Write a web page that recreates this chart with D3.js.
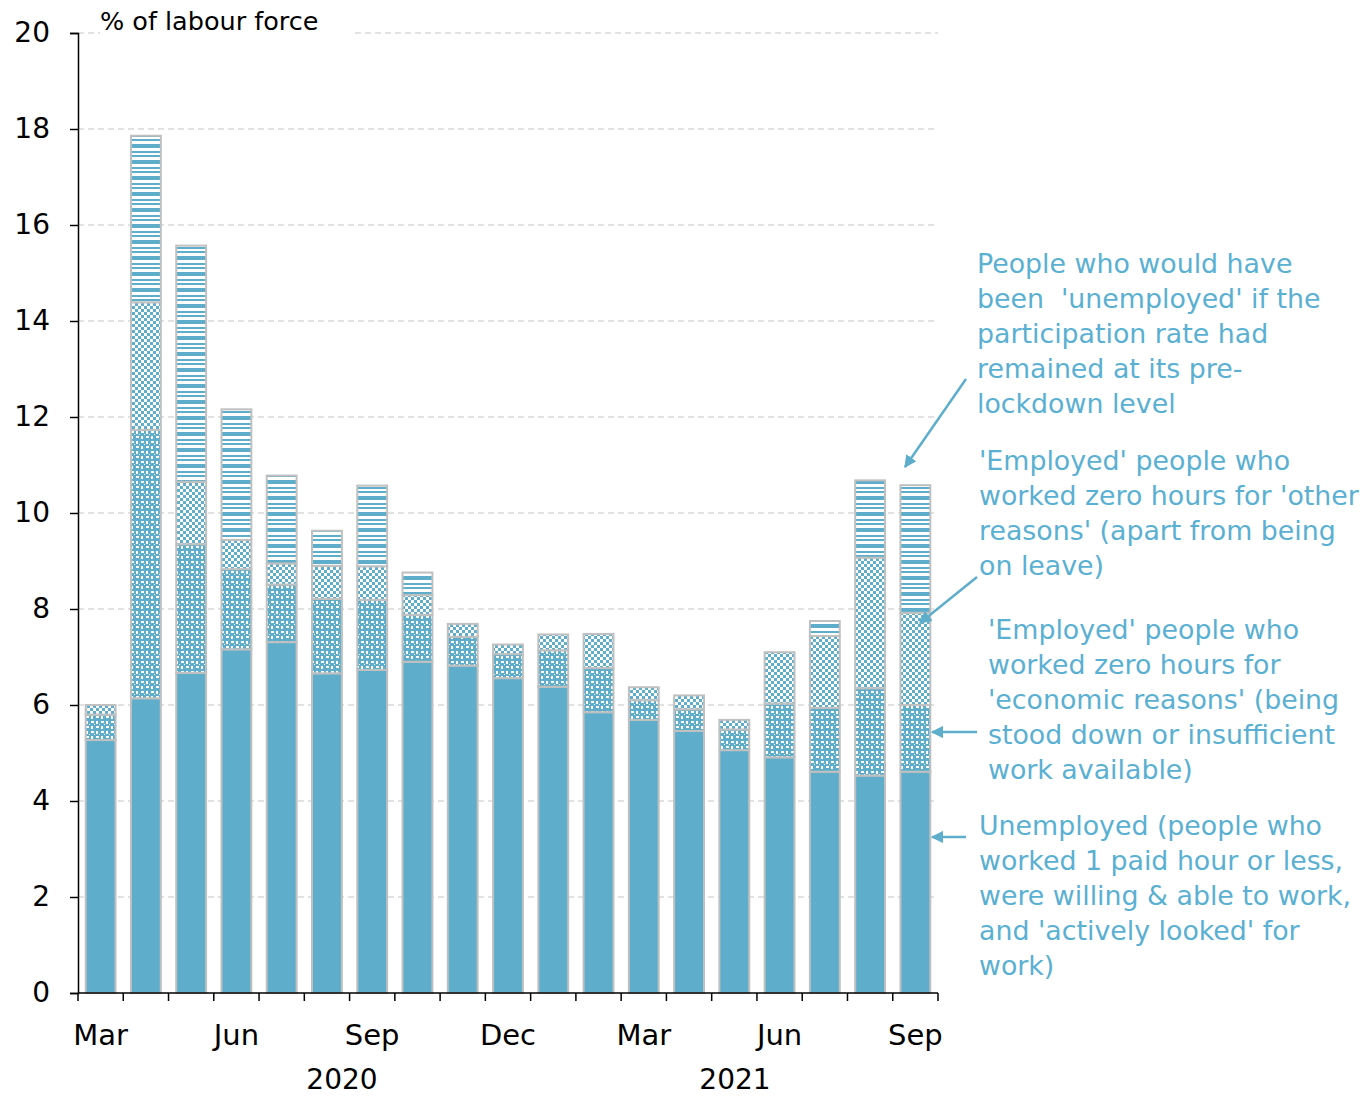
<!DOCTYPE html>
<html><head><meta charset="utf-8">
<script src="https://cdn.jsdelivr.net/npm/d3@7"></script>
<style>body{margin:0;background:#fff;} text{font-family:"DejaVu Sans",sans-serif;white-space:pre;}</style>
</head><body>
<svg id="chart" width="1371" height="1097"></svg>
<script>
const months = ["Mar","Apr","May","Jun","Jul","Aug","Sep","Oct","Nov","Dec","Jan","Feb","Mar","Apr","May","Jun","Jul","Aug","Sep"];
const years = [2020,2020,2020,2020,2020,2020,2020,2020,2020,2020,2021,2021,2021,2021,2021,2021,2021,2021,2021];
const unemployed   = [5.27,6.14,6.67,7.16,7.31,6.66,6.73,6.90,6.82,6.56,6.38,5.85,5.69,5.46,5.06,4.91,4.61,4.53,4.61];
const zeroEconomic = [0.53,5.59,2.68,1.67,1.20,1.55,1.46,0.98,0.60,0.50,0.76,0.92,0.41,0.45,0.43,1.12,1.33,1.82,1.39];
const zeroOther    = [0.20,2.66,1.30,0.61,0.44,0.69,0.70,0.41,0.27,0.20,0.33,0.71,0.27,0.29,0.20,1.07,1.50,2.72,1.92];
const participation= [0.00,3.47,4.92,2.72,1.83,0.73,1.68,0.47,0.00,0.00,0.00,0.00,0.00,0.00,0.00,0.00,0.31,1.61,2.66];
const yTicks = [0,2,4,6,8,10,12,14,16,18,20];
const monthLabels = ["Mar","Jun","Sep","Dec"];
const yearLabels = ["2020","2021"];
const yAxisTitle = "% of labour force";
const annotations = [
  ["People who would have","been  'unemployed' if the","participation rate had","remained at its pre-","lockdown level"],
  ["'Employed' people who","worked zero hours for 'other","reasons' (apart from being","on leave)"],
  ["'Employed' people who","worked zero hours for","'economic reasons' (being","stood down or insufficient","work available)"],
  ["Unemployed (people who","worked 1 paid hour or less,","were willing & able to work,","and 'actively looked' for","work)"]
];

const BLUE = "#5eaecb", TXT = "#5ab0d2", OUT = "#c0c0c0";
const svg = d3.select("#chart");
const L = 78, R = 938, T = 33, B = 993;
const idx = d3.range(months.length);
const x = d3.scaleBand().domain(idx).range([L, R]).paddingInner(0.34).paddingOuter(0.17);
const y = d3.scaleLinear().domain([0, 20]).range([B, T]);

// patterns
const defs = svg.append("defs");
const p1 = defs.append("pattern").attr("id","pEcon").attr("patternUnits","userSpaceOnUse").attr("width",10).attr("height",10);
p1.append("rect").attr("width",10).attr("height",10).attr("fill",BLUE);
[[1,1,3,2],[6,1,2,3],[1,6,2,3],[6,6,3,2],[4,4,1,1],[9,4,1,1]].forEach(([a,b,w,h]) =>
  p1.append("rect").attr("x",a).attr("y",b).attr("width",w).attr("height",h).attr("fill","#fff"));
const p2 = defs.append("pattern").attr("id","pOther").attr("patternUnits","userSpaceOnUse").attr("width",6).attr("height",6);
p2.append("rect").attr("width",6).attr("height",6).attr("fill","#fff");
p2.append("rect").attr("x",0).attr("y",0).attr("width",3).attr("height",3).attr("fill",BLUE);
p2.append("rect").attr("x",3).attr("y",3).attr("width",3).attr("height",3).attr("fill",BLUE);
const p3 = defs.append("pattern").attr("id","pPart").attr("patternUnits","userSpaceOnUse").attr("width",10).attr("height",16);
p3.append("rect").attr("width",10).attr("height",16).attr("fill","#fff");
[[0,4],[7,2],[11,2]].forEach(([yy,h])=>p3.append("rect").attr("y",yy).attr("width",10).attr("height",h).attr("fill",BLUE));
defs.append("marker").attr("id","arr").attr("viewBox","0 0 10 10").attr("refX",9).attr("refY",5)
  .attr("markerWidth",5).attr("markerHeight",5).attr("orient","auto").attr("markerUnits","strokeWidth")
  .append("path").attr("d","M0,0 L10,5 L0,10 Z").attr("fill",BLUE);

// gridlines
svg.append("g").selectAll("line").data(yTicks.filter(d=>d>0)).join("line")
  .attr("x1", d => d === 20 ? 355 : L).attr("x2", R)
  .attr("y1", d => y(d)).attr("y2", d => y(d))
  .attr("stroke","#d9d9d9").attr("stroke-width",1.5).attr("stroke-dasharray","6,4");
svg.append("line").attr("x1",L).attr("x2",100).attr("y1",y(20)).attr("y2",y(20))
  .attr("stroke","#d9d9d9").attr("stroke-width",1.5).attr("stroke-dasharray","6,4");

// stacked bars
const rows = idx.map(i => ({i, unemployed:unemployed[i], econ:zeroEconomic[i], other:zeroOther[i], part:participation[i]}));
const keys = ["unemployed","econ","other","part"];
const fills = {unemployed:BLUE, econ:"url(#pEcon)", other:"url(#pOther)", part:"url(#pPart)"};
const series = d3.stack().keys(keys)(rows);
svg.append("g").selectAll("g").data(series).join("g")
  .attr("fill", s => fills[s.key])
  .selectAll("rect").data(s => s.filter(d => d[1]-d[0] > 0.001)).join("rect")
  .attr("x", d => x(d.data.i)).attr("width", x.bandwidth())
  .attr("y", d => y(d[1])).attr("height", d => y(d[0]) - y(d[1]))
  .attr("stroke", OUT).attr("stroke-width", 2);

// y axis
const yAxis = svg.append("g").attr("transform",`translate(${L},0)`)
  .call(d3.axisLeft(y).tickValues(yTicks).tickSize(8).tickPadding(20));
yAxis.select(".domain").attr("stroke","#000").attr("stroke-width",1.5);
yAxis.selectAll(".tick line").attr("stroke","#000").attr("stroke-width",1.5);
yAxis.selectAll("text").attr("font-size",28).attr("fill","#000").attr("font-family","DejaVu Sans");

// x axis
svg.append("line").attr("x1",L).attr("x2",R).attr("y1",B).attr("y2",B).attr("stroke","#000").attr("stroke-width",1.5);
const step = x.step();
const bounds = d3.range(months.length+1).map(k => L + k*step);
svg.append("g").selectAll("line").data(bounds).join("line")
  .attr("x1",d=>d).attr("x2",d=>d).attr("y1",B).attr("y2",B+8).attr("stroke","#000").attr("stroke-width",1.5);
svg.append("g").selectAll("text").data(idx.filter(i => monthLabels.includes(months[i]) && i % 3 === 0)).join("text")
  .attr("x", i => x(i) + x.bandwidth()/2).attr("y", 1045).attr("text-anchor","middle")
  .attr("font-size",29).attr("fill","#000").text(i => months[i]);
const yearPos = {"2020": 342, "2021": 735};
svg.append("g").selectAll("text").data(yearLabels).join("text")
  .attr("x", d => yearPos[d]).attr("y", 1089).attr("text-anchor","middle")
  .attr("font-size",28).attr("fill","#000").text(d => d);

svg.append("text").attr("x",100).attr("y",30).attr("font-size",25.5).attr("fill","#000").text(yAxisTitle);

// annotations
const annPos = [[977,273],[979,470],[988,639],[979,835]];
annotations.forEach((lines,k) => {
  const t = svg.append("text").attr("x",annPos[k][0]).attr("y",annPos[k][1]).attr("font-size",26.8).attr("fill",TXT);
  lines.forEach((ln,j) => t.append("tspan").attr("x",annPos[k][0]).attr("dy", j===0?0:35).text(ln));
});
const arrows = [[966,379,905,467],[977,577,920,623],[977,732,932,732],[966,837,932,837]];
svg.append("g").selectAll("line").data(arrows).join("line")
  .attr("x1",d=>d[0]).attr("y1",d=>d[1]).attr("x2",d=>d[2]).attr("y2",d=>d[3])
  .attr("stroke",BLUE).attr("stroke-width",2.5).attr("marker-end","url(#arr)");
</script>
</body></html>
